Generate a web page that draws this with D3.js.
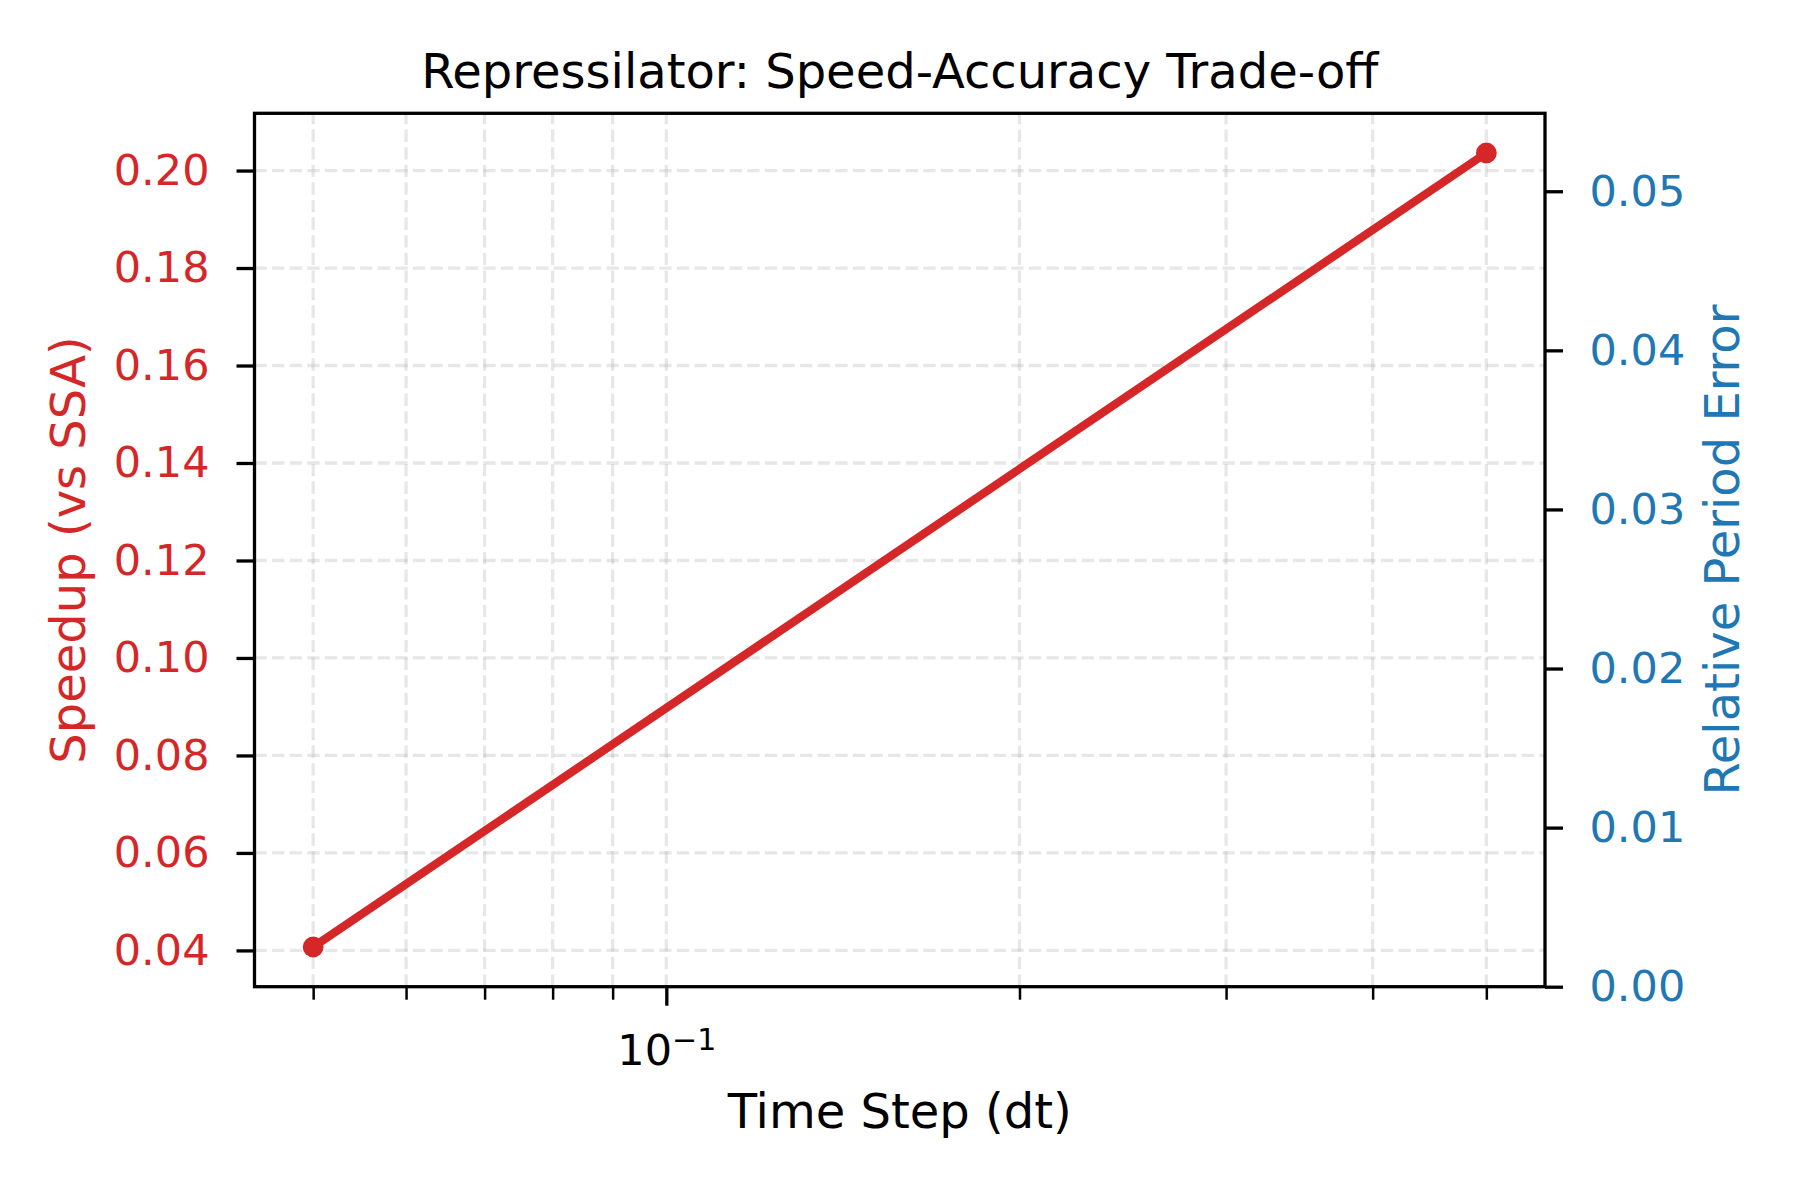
<!DOCTYPE html>
<html>
<head>
<meta charset="utf-8">
<script src="https://cdn.jsdelivr.net/npm/d3@7"></script>
<style>
    body { margin: 0; background: #fff; }
    text { font-family: "DejaVu Sans", sans-serif; }
</style>
</head>
<body>
<div id="chart"></div>
<script>
// Data
const timeSteps = [0.05, 0.5];
const speedup = [0.0407, 0.2036];

// Tick values
const speedupTicks = [0.04, 0.06, 0.08, 0.10, 0.12, 0.14, 0.16, 0.18, 0.20];
const errorTicks = [0.00, 0.01, 0.02, 0.03, 0.04, 0.05];
const xMajorTicks = [0.1];
const xMinorTicks = [0.05, 0.06, 0.07, 0.08, 0.09, 0.2, 0.3, 0.4, 0.5];
const errorLimits = [0, 0.0549];

const red = "#d62728", blue = "#1f77b4";

const margin = { top: 113.3, right: 255, bottom: 213.3, left: 254.5 },
    width = 1800 - margin.left - margin.right,
    height = 1200 - margin.top - margin.bottom;

const svg = d3.select("#chart").append("svg")
    .attr("width", 1800)
    .attr("height", 1200)
    .append("g")
    .attr("transform", `translate(${margin.left},${margin.top})`);

const points = timeSteps.map((t, i) => ({ dt: t, speedup: speedup[i] }));

// X scale (log, 5% padding like matplotlib)
const xPad = 0.05 * Math.log10(d3.max(timeSteps) / d3.min(timeSteps));
const x = d3.scaleLog()
    .domain([d3.min(timeSteps) / Math.pow(10, xPad), d3.max(timeSteps) * Math.pow(10, xPad)])
    .range([0, width]);

// Left Y scale
const yExt = d3.extent(speedup), yPad = 0.05 * (yExt[1] - yExt[0]);
const y = d3.scaleLinear()
    .domain([yExt[0] - yPad, yExt[1] + yPad])
    .range([height, 0]);

// Right Y scale
const y2 = d3.scaleLinear()
    .domain(errorLimits)
    .range([height, 0]);

// Grid
const grid = svg.append("g")
    .attr("stroke", "#b0b0b0")
    .attr("stroke-opacity", 0.3)
    .attr("stroke-width", 3.3)
    .attr("stroke-dasharray", "12.3,5.3");

grid.selectAll(".vgrid")
    .data(xMajorTicks.concat(xMinorTicks))
    .enter().append("line")
    .attr("x1", d => x(d)).attr("x2", d => x(d))
    .attr("y1", height).attr("y2", 0);

grid.selectAll(".hgrid")
    .data(speedupTicks)
    .enter().append("line")
    .attr("x1", 0).attr("x2", width)
    .attr("y1", d => y(d)).attr("y2", d => y(d));

// Line + markers
const line = d3.line()
    .x(d => x(d.dt))
    .y(d => y(d.speedup));

svg.append("path")
    .datum(points)
    .attr("fill", "none")
    .attr("stroke", red)
    .attr("stroke-width", 8.3)
    .attr("stroke-linecap", "square")
    .attr("d", line);

svg.selectAll(".dot")
    .data(points)
    .enter().append("circle")
    .attr("cx", d => x(d.dt))
    .attr("cy", d => y(d.speedup))
    .attr("r", 10.4)
    .attr("fill", red);

// Frame
svg.append("rect")
    .attr("width", width)
    .attr("height", height)
    .attr("fill", "none")
    .attr("stroke", "#000")
    .attr("stroke-width", 3.3);

function styleAxis(g, color, tickWidth) {
    g.select(".domain").remove();
    g.selectAll(".tick line").attr("stroke", "#000").attr("stroke-width", tickWidth);
    g.selectAll(".tick text")
        .attr("fill", color)
        .attr("font-size", "43px")
        .attr("font-family", "DejaVu Sans");
}

// Left Y axis
svg.append("g")
    .call(d3.axisLeft(y).tickValues(speedupTicks).tickSize(18).tickPadding(27)
        .tickFormat(d3.format(".2f")))
    .call(g => styleAxis(g, red, 3.3));

// Right Y axis
svg.append("g")
    .attr("transform", `translate(${width},0)`)
    .call(d3.axisRight(y2).tickValues(errorTicks).tickSize(18).tickPadding(26.5)
        .tickFormat(d3.format(".2f")))
    .call(g => styleAxis(g, blue, 3.3));

// X axis minor ticks
svg.append("g")
    .attr("transform", `translate(0,${height})`)
    .call(d3.axisBottom(x).tickValues(xMinorTicks).tickSize(13).tickFormat(""))
    .call(g => styleAxis(g, "#000", 2.5));

// X axis major tick with 10^-1 label
svg.append("g")
    .attr("transform", `translate(0,${height})`)
    .call(d3.axisBottom(x).tickValues(xMajorTicks).tickSize(19).tickFormat(""))
    .call(g => styleAxis(g, "#000", 3.3))
    .call(g => g.selectAll(".tick text")
        .attr("y", 78.3).attr("dy", null)
        .attr("text-anchor", "middle")
        .each(function (d) {
            const t = d3.select(this);
            const exp = Math.round(Math.log10(d));
            t.append("tspan").text("10");
            t.append("tspan").attr("dy", -15).attr("font-size", "30px").text("\u2212" + Math.abs(exp));
        }));

// Title and labels
svg.append("text")
    .attr("x", width / 2)
    .attr("y", -25)
    .attr("text-anchor", "middle")
    .attr("font-size", "48px")
    .attr("fill", "#000")
    .text("Repressilator: Speed-Accuracy Trade-off");

svg.append("text")
    .attr("x", width / 2)
    .attr("y", 1128.3 - margin.top)
    .attr("text-anchor", "middle")
    .attr("font-size", "48px")
    .attr("fill", "#000")
    .text("Time Step (dt)");

svg.append("text")
    .attr("transform", `translate(${85 - margin.left},${height / 2}) rotate(-90)`)
    .attr("text-anchor", "middle")
    .attr("font-size", "48px")
    .attr("fill", red)
    .text("Speedup (vs SSA)");

svg.append("text")
    .attr("transform", `translate(${1739 - margin.left},${height / 2}) rotate(-90)`)
    .attr("text-anchor", "middle")
    .attr("font-size", "48px")
    .attr("fill", blue)
    .text("Relative Period Error");
</script>
</body>
</html>
